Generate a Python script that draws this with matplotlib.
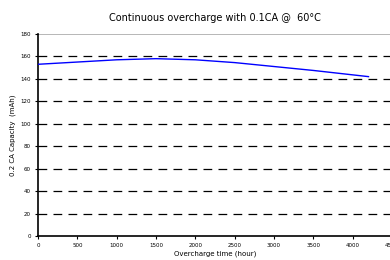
import matplotlib.pyplot as plt

hours = [0, 500, 1000, 1500, 2000, 2500, 3000, 3500, 4200]
capacity = [153, 155, 157, 158, 157, 154.5, 151, 147.5, 142]
yticks = [0, 20, 40, 60, 80, 100, 120, 140, 160, 180]
xticks = [0, 500, 1000, 1500, 2000, 2500, 3000, 3500, 4000, 4500]

fig = plt.figure(figsize=(3.9, 2.6), dpi=100)
ax = fig.add_axes([0.0974, 0.0923, 0.908, 0.777])

for y in yticks[1:-1]:
    ax.axhline(y, color="black", linestyle=(0, (7, 5)), linewidth=0.9, zorder=1)
ax.axhline(180, color="#aaaaaa", linewidth=1.2, zorder=1)

ax.plot(hours, capacity, color="blue", linewidth=1.0, zorder=3)

ax.set_xlim(0, 4500)
ax.set_ylim(0, 180)
ax.set_xticks(xticks)
ax.set_yticks(yticks)
ax.tick_params(labelsize=4, length=2, width=0.8, pad=3)
for s in ["top", "right"]:
    ax.spines[s].set_visible(False)
for s in ["left", "bottom"]:
    ax.spines[s].set_linewidth(1.2)

ax.set_title("Continuous overcharge with 0.1CA @  60\u00b0C", fontsize=7, pad=9)
ax.set_xlabel("Overcharge time (hour)", fontsize=5, labelpad=2)
ax.set_ylabel("0.2 CA Capacity  (mAh)", fontsize=5, labelpad=3)

fig.savefig("out.png", dpi=100)
